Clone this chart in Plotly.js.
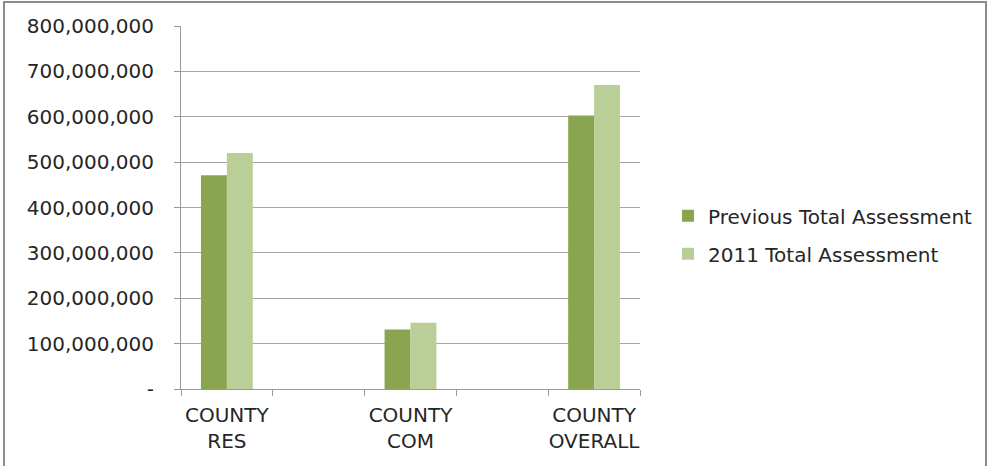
<!DOCTYPE html>
<html>
<head>
<meta charset="utf-8">
<script src="https://cdn.plot.ly/plotly-3.0.1.min.js"></script>
<style>
html,body{margin:0;padding:0;background:#fff;}
#wrap{position:relative;width:990px;height:466px;}
#chart{width:990px;height:466px;}
#frame{position:absolute;left:3px;top:1px;width:984px;height:470px;border:2px solid #8c8c8c;pointer-events:none;box-sizing:border-box;}
</style>
</head>
<body>
<div id="wrap"><div id="chart"></div><div id="frame"></div></div>
<script>
// Categories (spacer slots between them are empty on the original chart)
const categories = ["COUNTY<br>RES", "COUNTY<br>COM", "COUNTY<br>OVERALL"];
const slotOrder = ["COUNTY<br>RES", " ", "COUNTY<br>COM", "  ", "COUNTY<br>OVERALL"];
const seriesNames = ["Previous Total Assessment", "2011 Total Assessment"];
const previousValues = [471000000, 131000000, 603000000];
const values2011 = [520000000, 146000000, 670000000];
const yTickVals = [0, 100000000, 200000000, 300000000, 400000000, 500000000, 600000000, 700000000, 800000000];
const yTickText = ["-", "100,000,000", "200,000,000", "300,000,000", "400,000,000", "500,000,000", "600,000,000", "700,000,000", "800,000,000"];

const FONT = "DejaVu Sans, Liberation Sans, sans-serif";
const traces = [
  {type: "bar", name: seriesNames[0], x: categories, y: previousValues,
   marker: {color: "#8aa54f"}, legendgroup: "a", hoverinfo: "skip"},
  {type: "bar", name: seriesNames[1], x: categories, y: values2011,
   marker: {color: "#bacf97"}, legendgroup: "b", hoverinfo: "skip"}
];
const layout = {
  width: 990, height: 466,
  margin: {l: 181, r: 348, t: 26, b: 77},
  paper_bgcolor: "#ffffff", plot_bgcolor: "#ffffff",
  font: {family: FONT, size: 19, color: "#262626"},
  barmode: "group", bargap: 0.435, bargroupgap: 0,
  showlegend: true,
  legend: {x: 1.061, y: 0.425, xanchor: "left", yanchor: "middle",
           font: {family: FONT, size: 20, color: "#262626"},
           tracegroupgap: 9, traceorder: "grouped", bgcolor: "rgba(0,0,0,0)"},
  xaxis: {type: "category", categoryorder: "array", categoryarray: slotOrder,
          range: [-0.5, 4.5], tickson: "boundaries", ticks: "outside", ticklen: 6,
          tickcolor: "#999999", showline: true, linecolor: "#999999", linewidth: 1,
          showgrid: false, ticklabelstandoff: 8, tickangle: 0, automargin: false,
          tickfont: {family: FONT, size: 20, color: "#262626"},
          fixedrange: true},
  yaxis: {range: [0, 800000000], tickvals: yTickVals, ticktext: yTickText,
          ticks: "outside", ticklen: 6, tickcolor: "#999999",
          showline: true, linecolor: "#999999", linewidth: 1,
          showgrid: true, gridcolor: "#a6a6a6", gridwidth: 1,
          zeroline: false, ticklabelstandoff: 16, automargin: false,
          tickfont: {family: FONT, size: 20, color: "#262626"}, fixedrange: true}
};
Plotly.newPlot("chart", traces, layout, {displayModeBar: false, staticPlot: true});
</script>
</body>
</html>
